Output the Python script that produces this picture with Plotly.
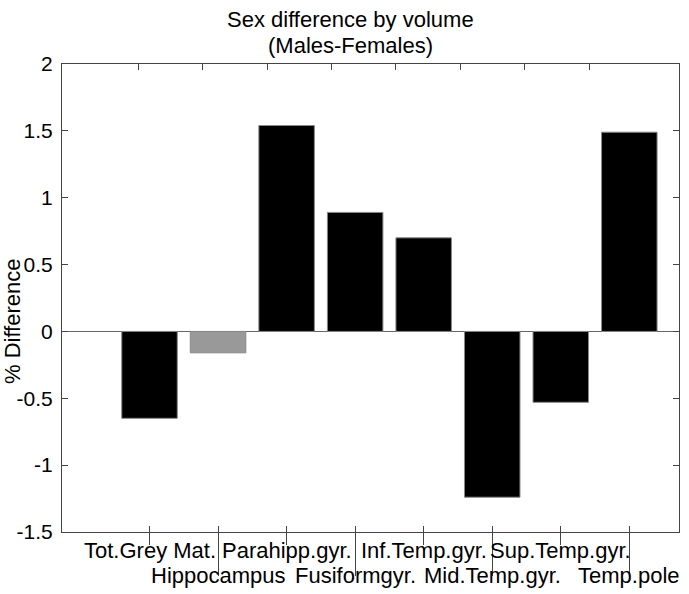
import plotly.graph_objects as go

# Regions and sex difference (% Males-Females)
regions = [
    "Tot.Grey Mat.",
    "Hippocampus",
    "Parahipp.gyr.",
    "Fusiformgyr.",
    "Inf.Temp.gyr.",
    "Mid.Temp.gyr.",
    "Sup.Temp.gyr.",
    "Temp.pole",
]
pct_difference = [-0.65, -0.16, 1.54, 0.89, 0.70, -1.24, -0.53, 1.49]
bar_colors = ["black", "#999999", "black", "black", "black", "black", "black", "black"]

y_tick_values = [-1.5, -1, -0.5, 0, 0.5, 1, 1.5, 2]
y_tick_labels = ["-1.5", "-1", "-0.5", "0", "0.5", "1", "1.5", "2"]

positions = list(range(1, len(regions) + 1))
axis_color = "#444444"
font_family = "Liberation Sans, Arial, Helvetica, sans-serif"


def overlay_axis(**kwargs):
    # helper for the extra frame/tick axes drawn over the main x axis
    base = dict(
        overlaying="x",
        anchor="y",
        tickcolor=axis_color,
        tickwidth=1,
        showticklabels=False,
        showgrid=False,
        zeroline=False,
        fixedrange=True,
    )
    base.update(kwargs)
    return base


def build_figure():
    fig = go.Figure()

    fig.add_trace(go.Bar(
        x=positions,
        y=pct_difference,
        width=0.81,
        marker=dict(color=bar_colors, line=dict(color="#888888", width=1)),
        showlegend=False,
        hoverinfo="x+y",
    ))

    # invisible helpers so the overlay axes get drawn
    for axis_name in ["x2", "x3", "x4"]:
        fig.add_trace(go.Scatter(
            x=[positions[0]], y=[0], xaxis=axis_name, yaxis="y",
            mode="markers", marker=dict(opacity=0),
            showlegend=False, hoverinfo="skip",
        ))

    fig.update_layout(
        # bottom axis: short outside ticks at every bar
        xaxis=dict(
            range=[-0.277, 8.725],
            tickvals=positions,
            ticks="outside",
            ticklen=12,
            tickcolor=axis_color,
            tickwidth=1,
            showticklabels=False,
            showline=True,
            linecolor=axis_color,
            linewidth=1,
            showgrid=False,
            zeroline=False,
            fixedrange=True,
        ),
        # top frame with its own tick spacing
        xaxis2=overlay_axis(
            side="top",
            range=[-0.18, 9.39],
            tickvals=positions,
            ticks="inside",
            ticklen=6,
            showline=True,
            linecolor=axis_color,
            linewidth=1,
        ),
        # long separator ticks at every second bar
        xaxis3=overlay_axis(
            side="bottom",
            range=[-0.277, 8.725],
            tickvals=positions[1::2],
            ticks="outside",
            ticklen=43,
            showline=False,
        ),
        # small inside part of the bottom ticks
        xaxis4=overlay_axis(
            side="bottom",
            range=[-0.277, 8.725],
            tickvals=positions,
            ticks="inside",
            ticklen=6,
            showline=False,
        ),
        yaxis=dict(
            range=[-1.5, 2],
            tickvals=y_tick_values,
            ticktext=y_tick_labels,
            ticks="inside",
            ticklen=6,
            tickcolor=axis_color,
            tickwidth=1,
            showline=True,
            linecolor=axis_color,
            linewidth=1,
            mirror="ticks",
            showgrid=False,
            zeroline=True,
            zerolinecolor="#666666",
            zerolinewidth=1,
            tickfont=dict(size=21, color="black", family=font_family),
            ticklabelstandoff=4,
            fixedrange=True,
        ),
    )

    annotations = []

    # category labels in two staggered rows
    for pos, name in zip(positions, regions):
        row_y = -0.040 if pos % 2 == 1 else -0.093
        annotations.append(dict(
            x=pos, y=row_y, xref="x", yref="paper",
            text=name, showarrow=False,
            xanchor="center", yanchor="middle",
            font=dict(size=22, color="black", family=font_family),
        ))

    annotations.append(dict(
        x=0.467, y=1.096, xref="paper", yref="paper",
        text="Sex difference by volume", showarrow=False,
        xanchor="center", yanchor="middle",
        font=dict(size=22, color="black", family=font_family),
    ))
    annotations.append(dict(
        x=0.467, y=1.040, xref="paper", yref="paper",
        text="(Males-Females)", showarrow=False,
        xanchor="center", yanchor="middle",
        font=dict(size=22, color="black", family=font_family),
    ))
    annotations.append(dict(
        x=-0.080, y=0.45, xref="paper", yref="paper",
        text="% Difference", showarrow=False, textangle=-90,
        xanchor="center", yanchor="middle",
        font=dict(size=22, color="black", family=font_family),
    ))

    fig.update_layout(
        annotations=annotations,
        width=689,
        height=594,
        margin=dict(l=62, r=10, t=64, b=62, autoexpand=False),
        plot_bgcolor="white",
        paper_bgcolor="white",
        bargap=0.19,
        font=dict(family=font_family, color="black"),
    )

    return fig


def main():
    fig = build_figure()
    # drop the default page margin so the figure fills the window exactly
    fig.write_html(
        "out.html",
        config={"displayModeBar": False},
        post_script="document.body.style.margin = '0px';",
    )


if __name__ == "__main__":
    main()
